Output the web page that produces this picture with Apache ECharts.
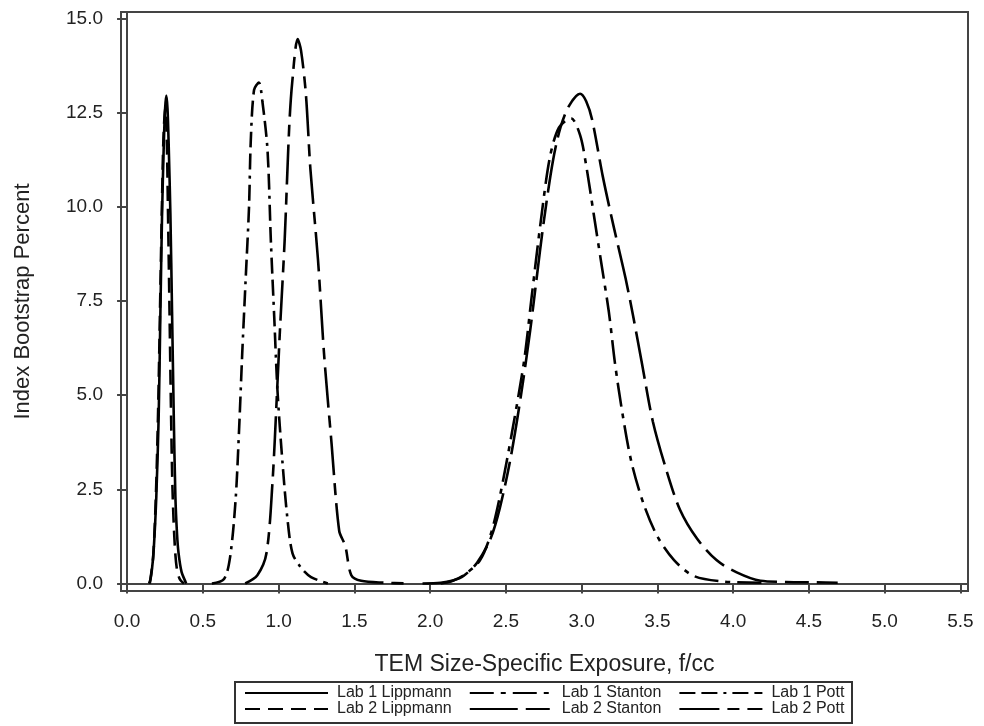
<!DOCTYPE html>
<html>
<head>
<meta charset="utf-8">
<script src="https://cdn.jsdelivr.net/npm/echarts@6/dist/echarts.min.js"></script>
<style>
  html, body { margin: 0; padding: 0; background: #fff; }
  #chart { width: 984px; height: 726px; }
</style>
</head>
<body>
<div id="chart"></div>
<script>
// [exposure f/cc, bootstrap percent]
const lab1Lippmann = [[0.145, 0], [0.154, 0.1], [0.165, 0.4], [0.176, 0.9], [0.193, 2.3], [0.209, 4.5], [0.22, 7.2], [0.231, 9.8], [0.242, 11.6], [0.251, 12.6], [0.259, 12.95], [0.267, 12.6], [0.275, 11.6], [0.286, 9.8], [0.297, 7.2], [0.308, 4.5], [0.319, 2.3], [0.33, 1.3], [0.34, 0.8], [0.36, 0.3], [0.385, 0.05], [0.39, 0]]
const lab2Lippmann = [[0.15, 0], [0.172, 0.7], [0.19, 2.3], [0.205, 4.6], [0.218, 7.4], [0.23, 10.0], [0.24, 11.8], [0.252, 12.6], [0.262, 11.8], [0.27, 9.9], [0.28, 7.3], [0.29, 4.6], [0.30, 2.5], [0.315, 1.0], [0.33, 0.35], [0.35, 0.1], [0.375, 0]]
const lab1Stanton = [[2.07, 0], [2.15, 0.07], [2.24, 0.27], [2.33, 0.62], [2.40, 1.3], [2.46, 2.3], [2.54, 4.0], [2.62, 5.9], [2.67, 7.6], [2.73, 9.6], [2.79, 11.3], [2.85, 12.1], [2.93, 12.35], [2.99, 11.9], [3.03, 11.1], [3.08, 9.8], [3.13, 8.5], [3.18, 7.2], [3.22, 5.85], [3.27, 4.5], [3.33, 3.2], [3.41, 2.1], [3.50, 1.25], [3.61, 0.62], [3.74, 0.2], [3.94, 0.05], [4.20, 0.02]]
const lab2Stanton = [[1.95, 0], [2.07, 0.02], [2.15, 0.08], [2.22, 0.2], [2.31, 0.55], [2.40, 1.2], [2.46, 2.0], [2.53, 3.3], [2.60, 5.0], [2.66, 6.7], [2.70, 8.0], [2.75, 9.6], [2.81, 11.2], [2.86, 12.1], [2.92, 12.7], [2.99, 13.0], [3.03, 12.8], [3.07, 12.3], [3.14, 10.8], [3.21, 9.5], [3.29, 8.1], [3.34, 7.1], [3.40, 5.8], [3.47, 4.3], [3.56, 3.0], [3.65, 1.95], [3.76, 1.2], [3.89, 0.62], [4.02, 0.3], [4.18, 0.07], [4.35, 0.04], [4.55, 0.03], [4.69, 0.02]]
const lab1Pott = [[0.56, 0], [0.64, 0.12], [0.68, 0.7], [0.716, 2.2], [0.74, 4.15], [0.76, 6.1], [0.783, 8.1], [0.805, 10.0], [0.816, 11.7], [0.838, 13.1], [0.87, 13.3], [0.893, 12.8], [0.927, 11.5], [0.949, 9.1], [0.971, 7.1], [0.993, 5.1], [1.026, 3.2], [1.059, 1.7], [1.092, 0.8], [1.148, 0.42], [1.214, 0.17], [1.325, 0]]
const lab2Pott = [[0.78, 0], [0.86, 0.22], [0.92, 0.8], [0.96, 2.7], [0.99, 5.1], [1.01, 6.8], [1.04, 9.1], [1.07, 12.1], [1.09, 13.3], [1.126, 14.45], [1.148, 14.15], [1.18, 13.0], [1.21, 11.0], [1.26, 8.6], [1.30, 6.1], [1.35, 3.7], [1.40, 1.4], [1.44, 1.0], [1.48, 0.22], [1.545, 0.07], [1.70, 0.02], [1.85, 0]]

const xTicks = [0, 0.5, 1, 1.5, 2, 2.5, 3, 3.5, 4, 4.5, 5, 5.5]
const yTicks = [0, 2.5, 5, 7.5, 10, 12.5, 15]
const legendRow1 = ['Lab 1 Lippmann', 'Lab 1 Stanton', 'Lab 1 Pott']
const legendRow2 = ['Lab 2 Lippmann', 'Lab 2 Stanton', 'Lab 2 Pott']

const font = 'Liberation Sans, Arial, Helvetica, sans-serif'
const ink = '#222'
const frame = '#444'

const chart = echarts.init(document.getElementById('chart'))

const curve = (name, data, dash) => ({
  name,
  type: 'line',
  data,
  symbol: 'none',
  smooth: 0.3,
  lineStyle: { color: '#000', width: 2.6, type: dash },
  itemStyle: { color: '#000' },
})

const legendRow = (data, top) => ({
  data,
  left: 244,
  top,
  padding: 0,
  itemWidth: 83,
  itemHeight: 14,
  itemGap: 17,
  selectedMode: false,
  itemStyle: { opacity: 0 },
  textStyle: { fontFamily: font, fontSize: 16, color: ink, padding: [0, 0, 0, 4] },
})

chart.setOption({
  animation: false,
  grid: {
    left: 121,
    right: 16,
    top: 12,
    bottom: 135,
    show: true,
    borderColor: frame,
    borderWidth: 2,
  },
  legend: [legendRow(legendRow1, 685), legendRow(legendRow2, 701)],
  graphic: [{
    type: 'rect',
    shape: { x: 235, y: 682, width: 617, height: 41 },
    style: { fill: 'none', stroke: '#333', lineWidth: 2 },
  }],
  xAxis: {
    type: 'value',
    min: -0.04,
    max: 5.55,
    name: 'TEM Size-Specific Exposure, f/cc',
    nameLocation: 'middle',
    nameGap: 62,
    nameTextStyle: { fontFamily: font, fontSize: 23, color: ink },
    axisLine: { show: true, lineStyle: { color: frame, width: 2 } },
    axisTick: { show: true, customValues: xTicks, length: 10, lineStyle: { color: frame, width: 2 } },
    axisLabel: {
      customValues: xTicks,
      formatter: (v) => v.toFixed(1),
      margin: 21,
      fontFamily: font,
      fontSize: 19,
      color: ink,
    },
    splitLine: { show: false },
  },
  yAxis: {
    type: 'value',
    min: -0.2,
    max: 15.17,
    name: 'Index Bootstrap Percent',
    nameLocation: 'middle',
    nameRotate: 90,
    nameGap: 87,
    nameTextStyle: { fontFamily: font, fontSize: 22, color: ink },
    axisLine: { show: true, lineStyle: { color: frame, width: 2 } },
    axisTick: { show: true, customValues: yTicks, length: 10, lineStyle: { color: frame, width: 2 } },
    axisLabel: {
      customValues: yTicks,
      formatter: (v) => v.toFixed(1),
      margin: 18,
      fontFamily: font,
      fontSize: 19,
      color: ink,
    },
    splitLine: { show: false },
  },
  series: [
    curve('Lab 1 Lippmann', lab1Lippmann, 'solid'),
    curve('Lab 1 Stanton', lab1Stanton, [24, 7, 5, 7]),
    curve('Lab 1 Pott', lab1Pott, [16, 6, 16, 6, 3, 6]),
    curve('Lab 2 Lippmann', lab2Lippmann, [15, 8]),
    curve('Lab 2 Stanton', lab2Stanton, [48, 8, 24, 8]),
    curve('Lab 2 Pott', lab2Pott, [40, 8, 12, 8]),
  ],
})

window.addEventListener('resize', () => {
  chart.resize()
})
</script>
</body>
</html>
